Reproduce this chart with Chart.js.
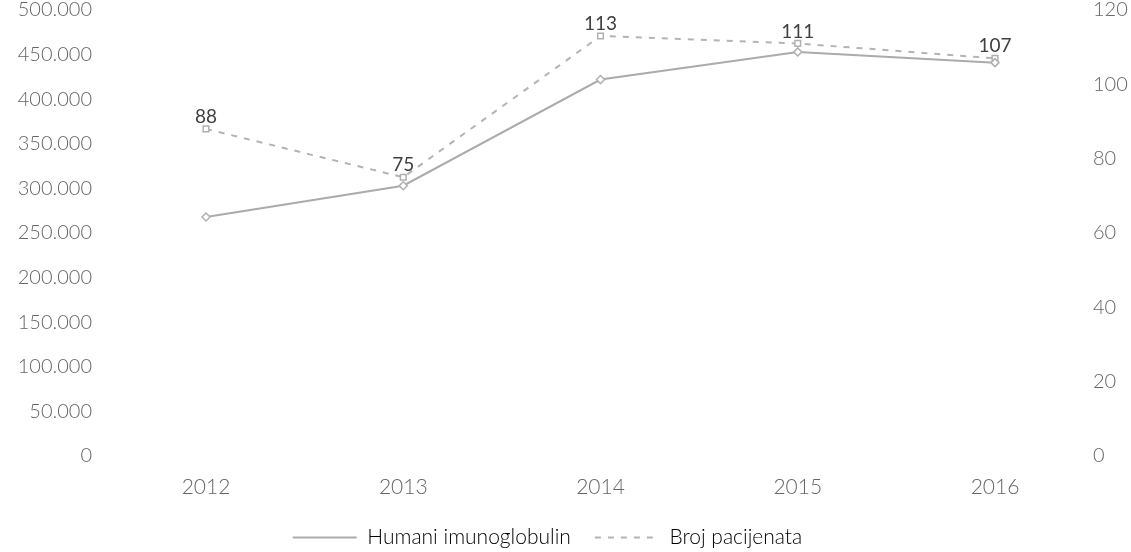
<!DOCTYPE html>
<html>
<head>
<meta charset="utf-8">
<script src="https://cdn.jsdelivr.net/npm/chart.js@4"></script>
<style>
html,body{margin:0;padding:0;background:#fff;}
#wrap{width:1131px;height:552px;}
</style>
</head>
<body>
<div id="wrap"><canvas id="c" width="1131" height="552"></canvas></div>
<script>
const years = ['2012', '2013', '2014', '2015', '2016'];
const imunoglobulin = [268000, 303000, 422000, 453000, 441000];
const pacijenti = [88, 75, 113, 111, 107];
const leftTicks = [0, 50000, 100000, 150000, 200000, 250000, 300000, 350000, 400000, 450000, 500000];
const rightTicks = [0, 20, 40, 60, 80, 100, 120];

const FONT = 'Lato, "Open Sans", sans-serif';
const fmt = v => v === 0 ? '0' : v.toLocaleString('de-DE');

const labelPlugin = {
  id: 'pointLabels',
  afterDatasetsDraw(chart) {
    const ctx = chart.ctx;
    const meta = chart.getDatasetMeta(1);
    ctx.save();
    ctx.font = '19px ' + FONT;
    ctx.fillStyle = '#404040';
    ctx.textAlign = 'center';
    ctx.textBaseline = 'middle';
    meta.data.forEach((pt, i) => {
      ctx.fillText(String(pacijenti[i]), pt.x, pt.y - 12);
    });
    ctx.restore();
  }
};

const noVertPad = axis => { axis.paddingTop = 0; axis.paddingBottom = 0; };

new Chart(document.getElementById('c'), {
  type: 'line',
  data: {
    labels: years,
    datasets: [
      {
        label: 'Humani imunoglobulin',
        data: imunoglobulin,
        yAxisID: 'y',
        borderColor: '#ababab',
        backgroundColor: '#ffffff',
        borderWidth: 2,
        pointStyle: 'rectRot',
        pointRadius: 4,
        pointBorderColor: '#b0b0b0',
        pointBorderWidth: 1.5,
        tension: 0
      },
      {
        label: 'Broj pacijenata',
        data: pacijenti,
        yAxisID: 'y1',
        borderColor: '#b3b3b3',
        backgroundColor: '#ffffff',
        borderWidth: 2,
        borderDash: [6, 7],
        pointStyle: 'rect',
        pointRadius: 4,
        pointBorderColor: '#b0b0b0',
        pointBorderWidth: 1.5,
        tension: 0
      }
    ]
  },
  options: {
    responsive: false,
    animation: false,
    layout: { padding: { top: 10, bottom: -6, left: -36, right: 0 } },
    plugins: {
      tooltip: { enabled: false },
      legend: {
        position: 'bottom',
        labels: {
          font: { size: 21, family: FONT, weight: 300 },
          color: '#555',
          usePointStyle: true,
          pointStyleWidth: 64,
          boxHeight: 21,
          padding: 24,
          generateLabels(chart) {
            return chart.data.datasets.map((ds, i) => ({
              text: ds.label,
              fillStyle: ds.borderColor,
              strokeStyle: ds.borderColor,
              lineWidth: 2,
              lineDash: ds.borderDash || [],
              pointStyle: 'line',
              datasetIndex: i,
              hidden: false
            }));
          }
        }
      }
    },
    scales: {
      x: {
        offset: false,
        grid: { display: false, drawTicks: false },
        border: { display: false },
        afterFit(axis) { axis.height = 47; },
        ticks: { color: '#666', padding: 19, maxRotation: 0, autoSkip: false, font: { size: 21, family: FONT, weight: 300 } }
      },
      y: {
        position: 'left',
        min: 0, max: 500000,
        afterBuildTicks(axis) { axis.ticks = leftTicks.map(v => ({ value: v })); },
        grid: { display: false, drawTicks: false },
        border: { display: false },
        afterFit(axis) { axis.width = 242; noVertPad(axis); },
        ticks: {
          color: '#666', padding: 114,
          font: { size: 20, family: FONT, weight: 300 },
          callback: v => fmt(v)
        }
      },
      y1: {
        position: 'right',
        min: 0, max: 120,
        afterBuildTicks(axis) { axis.ticks = rightTicks.map(v => ({ value: v })); },
        grid: { display: false, drawTicks: false },
        border: { display: false },
        afterFit(axis) { axis.width = 136; noVertPad(axis); },
        ticks: {
          color: '#666', padding: 98,
          font: { size: 20, family: FONT, weight: 300 }
        }
      }
    }
  },
  plugins: [labelPlugin]
});
</script>
</body>
</html>
